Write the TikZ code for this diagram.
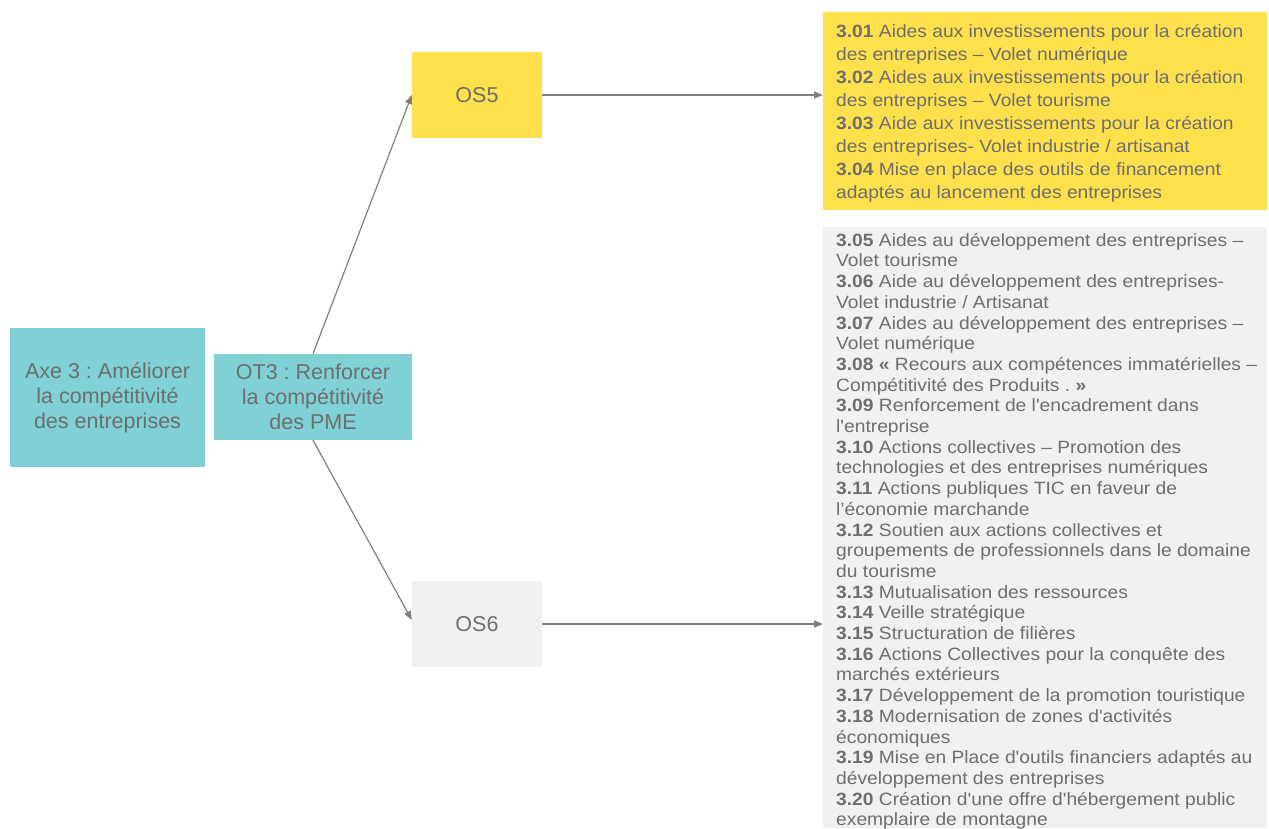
\documentclass[tikz,border=0pt]{standalone}
\usepackage{fontspec}
\setmainfont{Liberation Sans}[Ligatures=TeXOff]
\newfontfamily\listfont{Liberation Sans}[Ligatures=TeXOff, FakeStretch=1.08]
\usetikzlibrary{arrows.meta,calc}
\definecolor{tealfill}{HTML}{7FD1D5}
\definecolor{yellowfill}{HTML}{FFE14D}
\definecolor{greyfill}{HTML}{F1F1F1}
\definecolor{ink}{HTML}{6E6E6E}
\definecolor{linkgrey}{HTML}{808080}
\tikzset{
  box/.style={inner sep=0pt, align=center, text=ink,
    font=\frenchspacing\fontsize{21.5}{25}\selectfont},
  tealbox/.style={box, fill=tealfill},
  osbox/.style={box, minimum width=130pt, minimum height=86pt},
  listbox/.style={inner sep=0pt, anchor=north west, minimum width=444pt},
  listtext/.style={inner sep=0pt, anchor=north west, align=left, text=ink},
  link/.style={draw=linkgrey, line width=1.2pt,
    -{Triangle[length=9pt,width=7pt]}},
}
\newcommand{\num}[1]{\textbf{#1}}
\begin{document}
\begin{tikzpicture}[x=1pt,y=-1pt]
\useasboundingbox (0,0) rectangle (1269,828);

% axis and thematic objective
\node[tealbox, minimum width=195pt, minimum height=139pt] (axe) at (107.5,397.5)
  {Axe 3 : Améliorer\\la compétitivité\\des entreprises};
\node[tealbox, minimum width=198pt, minimum height=86pt] (ot3) at (313,397)
  {OT3 : Renforcer\\la compétitivité\\des PME};

% specific objectives
\node[osbox, fill=yellowfill] (os5) at (477,95) {OS5};
\node[osbox, fill=greyfill] (os6) at (477,624) {OS6};

% action lists
\node[listbox, fill=yellowfill, minimum height=198pt] (list5) at (823,12) {};
\node[listbox, fill=greyfill, minimum height=601pt] (list6) at (823,227) {};

\node[listtext, font=\listfont\frenchspacing\fontsize{17.8}{23}\selectfont] (items5) at (836,19)
  {\rule{0pt}{18pt}\num{3.01} Aides aux investissements pour la création\\
   des entreprises – Volet numérique\\
   \num{3.02} Aides aux investissements pour la création\\
   des entreprises – Volet tourisme\\
   \num{3.03} Aide aux investissements pour la création\\
   des entreprises- Volet industrie / artisanat\\
   \num{3.04} Mise en place des outils de financement\\
   adaptés au lancement des entreprises};

\node[listtext, font=\listfont\frenchspacing\fontsize{17.8}{20.7}\selectfont] (items6) at (836,228)
  {\rule{0pt}{18pt}\num{3.05} Aides au développement des entreprises –\\
   Volet tourisme\\
   \num{3.06} Aide au développement des entreprises-\\
   Volet industrie / Artisanat\\
   \num{3.07} Aides au développement des entreprises –\\
   Volet numérique\\
   \num{3.08 «} Recours aux compétences immatérielles –\\
   Compétitivité des Produits . \num{»}\\
   \num{3.09} Renforcement de l'encadrement dans\\
   l'entreprise\\
   \num{3.10} Actions collectives – Promotion des\\
   technologies et des entreprises numériques\\
   \num{3.11} Actions publiques TIC en faveur de\\
   l’économie marchande\\
   \num{3.12} Soutien aux actions collectives et\\
   groupements de professionnels dans le domaine\\
   du tourisme\\
   \num{3.13} Mutualisation des ressources\\
   \num{3.14} Veille stratégique\\
   \num{3.15} Structuration de filières\\
   \num{3.16} Actions Collectives pour la conquête des\\
   marchés extérieurs\\
   \num{3.17} Développement de la promotion touristique\\
   \num{3.18} Modernisation de zones d'activités\\
   économiques\\
   \num{3.19} Mise en Place d'outils financiers adaptés au\\
   développement des entreprises\\
   \num{3.20} Création d'une offre d'hébergement public\\
   exemplaire de montagne};

% connectors
\draw[link] (ot3.north) -- (os5.west);
\draw[link] (ot3.south) -- ($(os6.west)+(0,-4)$);
\draw[link] (os5.east) -- (os5.east -| list5.west);
\draw[link] (os6.east) -- (os6.east -| list6.west);
\end{tikzpicture}
\end{document}
